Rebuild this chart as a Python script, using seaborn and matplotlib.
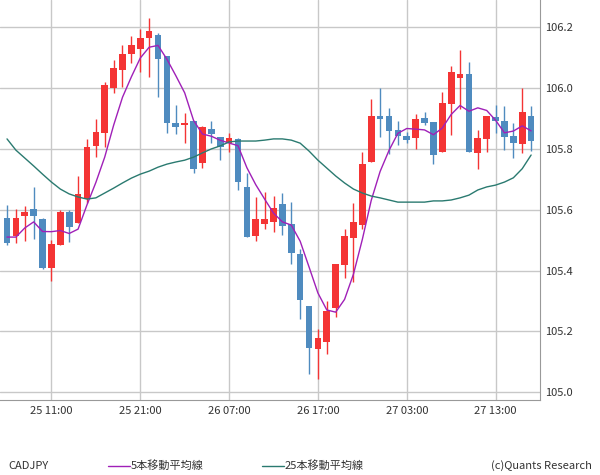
import numpy as np
import pandas as pd
import matplotlib
matplotlib.use("Agg")
import matplotlib.pyplot as plt
from matplotlib.lines import Line2D
import seaborn as sns

opens  = [105.573,105.513,105.579,105.602,105.569,105.408,105.484,105.592,105.556,105.635,
          105.810,105.852,106.000,106.060,106.112,106.129,106.165,106.175,106.106,105.885,
          105.880,105.892,105.754,105.865,105.839,105.819,105.833,105.675,105.513,105.553,
          105.560,105.619,105.553,105.454,105.283,105.142,105.165,105.277,105.418,105.507,
          105.550,105.757,105.908,105.908,105.862,105.842,105.836,105.902,105.888,105.790,
          105.948,106.033,106.046,105.787,105.833,105.905,105.892,105.842,105.816,105.908]
highs  = [105.616,105.602,105.612,105.675,105.573,105.500,105.599,105.599,105.711,105.833,
          105.898,106.020,106.092,106.142,106.171,106.194,106.231,106.181,106.106,105.944,
          105.918,105.892,105.875,105.892,105.839,105.852,105.836,105.721,105.642,105.658,
          105.645,105.655,105.625,105.471,105.283,105.208,105.300,105.422,105.537,105.622,
          105.790,105.964,106.000,105.935,105.892,105.856,105.915,105.921,105.888,105.987,
          106.073,106.125,106.086,105.862,105.908,105.944,105.941,105.885,106.000,105.941]
lows   = [105.484,105.490,105.497,105.504,105.405,105.366,105.484,105.494,105.556,105.622,
          105.773,105.806,105.984,106.004,106.083,106.053,106.037,105.971,105.852,105.849,
          105.819,105.721,105.737,105.819,105.763,105.790,105.665,105.510,105.497,105.537,
          105.527,105.517,105.422,105.240,105.060,105.043,105.126,105.247,105.375,105.363,
          105.537,105.757,105.839,105.783,105.813,105.819,105.800,105.879,105.750,105.790,
          105.846,105.931,105.790,105.734,105.790,105.852,105.796,105.770,105.787,105.793]
closes = [105.490,105.573,105.592,105.579,105.408,105.487,105.592,105.543,105.651,105.806,
          105.856,106.010,106.066,106.112,106.142,106.165,106.188,106.096,105.885,105.872,
          105.882,105.734,105.872,105.849,105.806,105.836,105.691,105.510,105.569,105.569,
          105.606,105.546,105.458,105.303,105.145,105.178,105.267,105.422,105.513,105.560,
          105.750,105.908,105.898,105.859,105.842,105.829,105.898,105.885,105.780,105.951,
          106.053,106.046,105.790,105.836,105.908,105.892,105.839,105.819,105.921,105.826]
ma5_head = [105.51, 105.51, 105.54, 105.56]
ma25 = [105.833,105.796,105.770,105.744,105.717,105.691,105.668,105.652,105.642,105.635,
        105.639,105.655,105.671,105.688,105.704,105.717,105.727,105.740,105.750,105.757,
        105.763,105.773,105.787,105.800,105.810,105.823,105.826,105.826,105.826,105.829,
        105.833,105.833,105.829,105.819,105.793,105.763,105.737,105.711,105.688,105.668,
        105.655,105.645,105.639,105.632,105.625,105.625,105.625,105.625,105.629,105.629,
        105.632,105.639,105.648,105.665,105.675,105.681,105.691,105.705,105.735,105.780]
tick_pos = [5, 15, 25, 35, 45, 55]
tick_labels = ["25 11:00", "25 21:00", "26 07:00", "26 17:00", "27 03:00", "27 13:00"]

df = pd.DataFrame({"i": np.arange(len(opens)), "o": opens, "h": highs, "l": lows, "c": closes})
ma5 = df["c"].rolling(5).mean().to_numpy()
ma5[:4] = ma5_head
df["ma5"] = ma5
df["ma25"] = ma25

sns.set_style("white")
plt.rcParams["font.family"] = ["Noto Sans CJK JP", "DejaVu Sans"]

RED, BLUE = "#f43434", "#4f8bbf"
fig = plt.figure(figsize=(6, 4.75), dpi=100)
ax = fig.add_axes([0, 75/475, 540/600, 400/475])

for y in np.arange(105.0, 106.3, 0.2):
    ax.axhline(y, color="#c8c8c8", lw=1, zorder=0)
for x in tick_pos:
    ax.axvline(x, color="#c8c8c8", lw=1, zorder=0)

up = df["c"] >= df["o"]
colors = np.where(up, RED, BLUE)
ax.vlines(df["i"], df["l"], df["h"], colors=colors, lw=1, zorder=2)
ax.bar(df["i"], (df["c"] - df["o"]).abs().clip(lower=0.004), bottom=np.minimum(df["o"], df["c"]),
       width=0.75, color=colors, zorder=3, linewidth=0)

sns.lineplot(data=df, x="i", y="ma5", ax=ax, color="#a020b8", lw=1, zorder=4)
sns.lineplot(data=df, x="i", y="ma25", ax=ax, color="#2a7a70", lw=1, zorder=4)

ax.set_xlim(-0.79, 60.0)
ax.set_ylim(104.974, 106.29)
ax.set_xticks(tick_pos)
ax.set_xticklabels(tick_labels)
ax.set_yticks(np.round(np.arange(105.0, 106.3, 0.2), 1))
ax.set_yticklabels([f"{v:.1f}" for v in np.arange(105.0, 106.3, 0.2)])
ax.yaxis.tick_right()
ax.tick_params(axis="both", labelsize=8, colors="#333333", length=0, pad=4)
ax.set_xlabel(""); ax.set_ylabel("")
for s in ["top", "left"]:
    ax.spines[s].set_visible(False)
for s in ["right", "bottom"]:
    ax.spines[s].set_color("#999999")

fig.text(8/600, 1 - 466/475, "CADJPY", fontsize=8, va="center", color="#333333")
fig.add_artist(Line2D([108/600, 130/600], [1 - 466/475] * 2, color="#a020b8", lw=1))
fig.text(131/600, 1 - 466/475, "5本移動平均線", fontsize=8, va="center", color="#333333")
fig.add_artist(Line2D([262/600, 284/600], [1 - 466/475] * 2, color="#2a7a70", lw=1))
fig.text(285/600, 1 - 466/475, "25本移動平均線", fontsize=8, va="center", color="#333333")
fig.text(592/600, 1 - 466/475, "(c)Quants Research", fontsize=8, va="center", ha="right", color="#333333")

fig.savefig("out.png", dpi=100)
